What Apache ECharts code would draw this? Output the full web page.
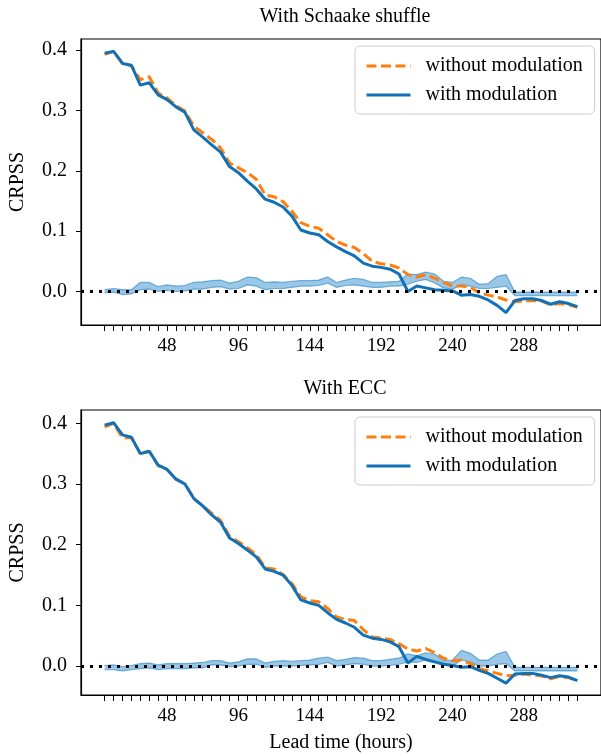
<!DOCTYPE html>
<html>
<head>
<meta charset="utf-8">
<script src="https://cdn.jsdelivr.net/npm/echarts@6/dist/echarts.min.js"></script>
<style>
html,body{margin:0;padding:0;background:#fff;}
#chart{width:601px;height:756px;}
</style>
</head>
<body>
<div id="chart"></div>
<script>
// Lead times (hours)
const hours = [6,12,18,24,30,36,42,48,54,60,66,72,78,84,90,96,102,108,114,120,126,132,138,144,150,156,162,168,174,180,186,192,198,204,210,216,222,228,234,240,246,252,258,264,270,276,282,288,294,300,306,312,318,324];
const xTickLabels = [48,96,144,192,240,288];
const yTickValues = [0.0,0.1,0.2,0.3,0.4];

// Panel 1: With Schaake shuffle
const schaakeWithout = [0.393,0.398,0.378,0.374,0.351,0.356,0.329,0.321,0.308,0.299,0.274,0.263,0.252,0.238,0.213,0.205,0.197,0.186,0.160,0.157,0.149,0.133,0.114,0.108,0.105,0.094,0.083,0.077,0.073,0.063,0.050,0.046,0.044,0.039,0.028,0.024,0.028,0.022,0.015,0.009,0.009,0.007,-0.002,-0.006,-0.009,-0.014,-0.017,-0.016,-0.015,-0.016,-0.022,-0.020,-0.022,-0.026];
const schaakeWith = [0.395,0.398,0.378,0.375,0.342,0.346,0.326,0.318,0.306,0.297,0.268,0.256,0.243,0.231,0.207,0.197,0.183,0.170,0.153,0.148,0.140,0.125,0.102,0.097,0.094,0.083,0.074,0.066,0.059,0.047,0.042,0.040,0.037,0.029,0.000,0.009,0.006,0.003,0.002,0.001,-0.006,-0.005,-0.008,-0.014,-0.023,-0.035,-0.015,-0.012,-0.012,-0.015,-0.021,-0.017,-0.020,-0.025];
const schaakeBandLow = [-0.002,-0.001,-0.005,-0.004,0.003,0.004,0.000,0.002,0.000,0.001,0.004,0.004,0.007,0.008,0.004,0.005,0.011,0.009,0.003,0.005,0.005,0.007,0.009,0.009,0.010,0.014,0.007,0.010,0.011,0.009,0.007,0.007,0.009,0.009,0.012,0.017,0.020,0.014,0.006,0.004,0.011,0.009,0.005,0.005,0.007,0.009,-0.007,-0.007,-0.007,-0.007,-0.007,-0.007,-0.007,-0.007];
const schaakeBandHigh = [0.003,0.005,0.003,0.003,0.015,0.015,0.008,0.011,0.009,0.010,0.015,0.016,0.018,0.019,0.014,0.017,0.024,0.023,0.015,0.016,0.015,0.017,0.018,0.018,0.019,0.024,0.015,0.019,0.022,0.020,0.015,0.015,0.016,0.017,0.029,0.028,0.032,0.029,0.017,0.015,0.024,0.022,0.012,0.013,0.025,0.028,-0.001,-0.001,-0.001,-0.001,-0.001,-0.001,-0.001,-0.001];

// Panel 2: With ECC
const eccWithout = [0.394,0.400,0.376,0.376,0.350,0.354,0.330,0.324,0.308,0.300,0.276,0.264,0.252,0.240,0.214,0.205,0.195,0.184,0.162,0.160,0.151,0.136,0.114,0.108,0.106,0.095,0.081,0.077,0.075,0.060,0.048,0.046,0.044,0.037,0.028,0.025,0.029,0.022,0.013,0.009,0.010,0.004,-0.004,-0.008,-0.012,-0.016,-0.015,-0.013,-0.015,-0.016,-0.021,-0.017,-0.019,-0.024];
const eccWith = [0.397,0.401,0.381,0.377,0.350,0.354,0.331,0.324,0.308,0.300,0.276,0.264,0.249,0.237,0.211,0.202,0.191,0.180,0.160,0.156,0.150,0.133,0.109,0.104,0.100,0.088,0.077,0.071,0.064,0.051,0.046,0.044,0.040,0.032,0.005,0.016,0.011,0.007,0.003,0.001,-0.002,-0.001,-0.007,-0.012,-0.020,-0.028,-0.013,-0.012,-0.012,-0.015,-0.019,-0.016,-0.018,-0.024];
const eccBandLow = [-0.006,-0.006,-0.008,-0.006,-0.004,-0.003,-0.006,-0.004,-0.004,-0.004,-0.003,-0.003,0.002,0.002,-0.001,0.000,0.003,0.003,-0.002,0.000,0.000,0.000,0.001,0.002,0.003,0.006,0.000,0.002,0.004,0.003,0.000,0.000,0.001,0.003,0.007,0.006,0.010,0.007,0.002,0.000,0.010,0.007,0.000,0.000,0.003,0.004,-0.008,-0.008,-0.008,-0.008,-0.008,-0.008,-0.008,-0.008];
const eccBandHigh = [0.001,0.002,-0.001,0.001,0.004,0.005,0.002,0.004,0.004,0.004,0.005,0.006,0.009,0.009,0.005,0.007,0.012,0.012,0.005,0.008,0.009,0.008,0.009,0.010,0.013,0.015,0.009,0.011,0.014,0.013,0.009,0.009,0.011,0.013,0.020,0.017,0.022,0.020,0.009,0.010,0.026,0.021,0.010,0.010,0.020,0.024,-0.002,-0.002,-0.002,-0.002,-0.002,-0.002,-0.002,-0.002];

const titles = ['With Schaake shuffle', 'With ECC'];
const seriesNames = ['without modulation', 'with modulation'];

const FONT = "'Liberation Serif', 'DejaVu Serif', serif";
const ORANGE = '#ff7f0e';
const BLUE = '#1071b6';
const BAND_FILL = 'rgba(31,130,200,0.45)';
const BAND_EDGE = 'rgba(31,130,200,0.6)';

const panels = [
  {without: schaakeWithout, with_: schaakeWith, low: schaakeBandLow, high: schaakeBandHigh, top: 39, height: 286, ymin: -0.0555, ymax: 0.4185},
  {without: eccWithout, with_: eccWith, low: eccBandLow, high: eccBandHigh, top: 410, height: 285, ymin: -0.0476, ymax: 0.4219}
];

const pairs = (arr) => hours.map((h, i) => [h, arr[i]]);

function bandRenderer(params, api) {
  if (params.dataIndex !== 0) return null;
  const n = params.dataInsideLength;
  const lower = [], upper = [];
  for (let j = 0; j < n; j++) {
    const h = api.value(0, j);
    lower.push(api.coord([h, api.value(1, j)]));
    upper.push(api.coord([h, api.value(2, j)]));
  }
  const poly = lower.concat(upper.slice().reverse());
  return {
    type: 'group',
    children: [
      {type: 'polygon', shape: {points: poly}, style: {fill: BAND_FILL, stroke: null}},
      {type: 'polyline', shape: {points: lower}, style: {fill: null, stroke: BAND_EDGE, lineWidth: 1.2}},
      {type: 'polyline', shape: {points: upper}, style: {fill: null, stroke: BAND_EDGE, lineWidth: 1.2}}
    ]
  };
}

const grid = [], xAxis = [], yAxis = [], series = [], legend = [], title = [];
panels.forEach((p, k) => {
  grid.push({left: 74, width: 532, top: p.top, height: p.height, show: true, borderColor: '#000', borderWidth: 1.2, backgroundColor: 'rgba(0,0,0,0)'});
  xAxis.push({
    type: 'value', gridIndex: k, min: -9.9, max: 339.9,
    axisLine: {show: true, onZero: false, lineStyle: {color: '#000', width: 1.2}},
    axisTick: {show: true, customValues: hours, length: 6, lineStyle: {color: '#000', width: 1}},
    axisLabel: {show: true, customValues: xTickLabels, margin: 12, color: '#000', fontSize: 19, fontFamily: FONT},
    splitLine: {show: false},
    name: k === 1 ? 'Lead time (hours)' : '',
    nameLocation: 'middle', nameGap: 38,
    nameTextStyle: {color: '#000', fontSize: 20, fontFamily: FONT}
  });
  yAxis.push({
    type: 'value', gridIndex: k, min: p.ymin, max: p.ymax,
    axisLine: {show: true, onZero: false, lineStyle: {color: '#000', width: 1.2}},
    axisTick: {show: true, customValues: yTickValues, length: 5, lineStyle: {color: '#000', width: 1}},
    axisLabel: {show: true, customValues: yTickValues, margin: 14, color: '#000', fontSize: 20, fontFamily: FONT, formatter: v => v.toFixed(1)},
    splitLine: {show: false},
    name: 'CRPSS', nameLocation: 'middle', nameGap: 53, nameRotate: 90,
    nameTextStyle: {color: '#000', fontSize: 20, fontFamily: FONT}
  });
  series.push({
    type: 'custom', name: 'band-' + k, xAxisIndex: k, yAxisIndex: k,
    data: hours.map((h, i) => [h, p.low[i], p.high[i]]),
    renderItem: bandRenderer, z: 1, silent: true, clip: true,
    encode: {x: 0, y: [1, 2]}
  });
  series.push({
    type: 'line', name: seriesNames[0], xAxisIndex: k, yAxisIndex: k,
    data: pairs(p.without), symbol: 'none', z: 3,
    lineStyle: {color: ORANGE, width: 3, type: [10, 4.5]}, itemStyle: {color: ORANGE}
  });
  series.push({
    type: 'line', name: seriesNames[1], xAxisIndex: k, yAxisIndex: k,
    data: pairs(p.with_), symbol: 'none', z: 4,
    lineStyle: {color: BLUE, width: 3}, itemStyle: {color: BLUE},
    markLine: {
      silent: true, symbol: ['none', 'none'], label: {show: false}, animation: false,
      lineStyle: {color: '#000', width: 3, type: [3, 6]},
      emphasis: {disabled: true},
      data: [{yAxis: 0}]
    }
  });
  legend.push({
    data: seriesNames, orient: 'vertical', left: 355, top: p.top + 7,
    itemWidth: 44, itemHeight: 14, itemGap: 9,
    padding: [10, 12, 9, 10],
    backgroundColor: 'rgba(255,255,255,0.85)', borderColor: '#cccccc', borderWidth: 1, borderRadius: 5,
    itemStyle: {opacity: 0, borderWidth: 0},
    lineStyle: {width: 3},
    textStyle: {color: '#000', fontSize: 20, fontFamily: FONT, padding: [0, 0, 0, 10]},
    selectedMode: false
  });
  title.push({
    text: titles[k], left: 340, top: k === 0 ? 2 : 374, textAlign: 'center',
    textStyle: {color: '#000', fontSize: 20, fontWeight: 'normal', fontFamily: FONT}
  });
});

const chart = echarts.init(document.getElementById('chart'), null, {renderer: 'canvas'});
chart.setOption({
  animation: false,
  backgroundColor: '#fff',
  title, grid, xAxis, yAxis, series, legend
});
</script>
</body>
</html>
